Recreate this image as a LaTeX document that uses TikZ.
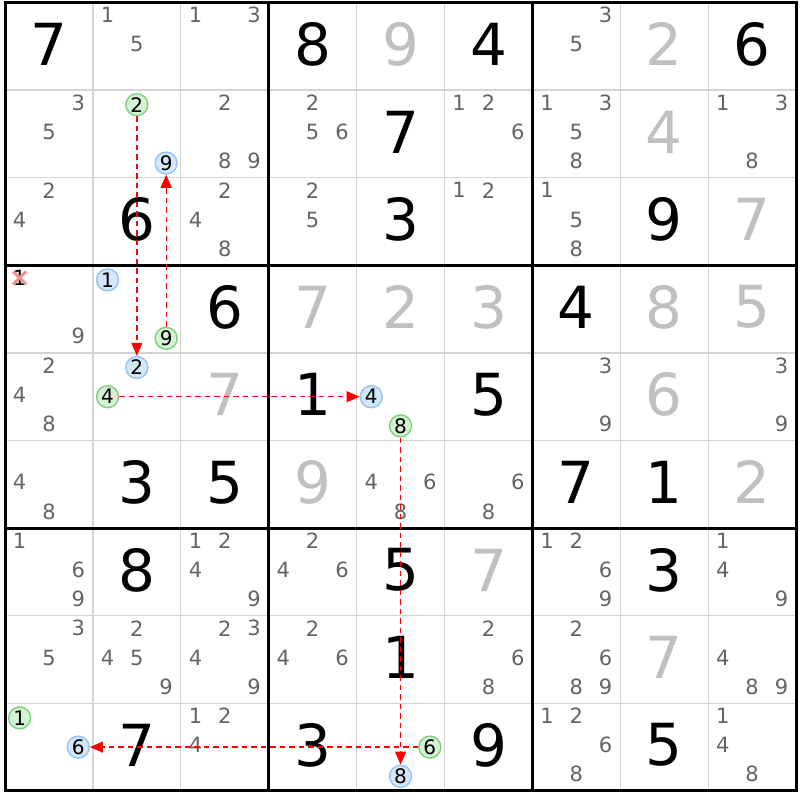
\documentclass[tikz,border=0pt]{standalone}
\usepackage{fontspec}
\setmainfont{DejaVu Sans}
\usetikzlibrary{arrows.meta}
\definecolor{candgray}{HTML}{646464}
\definecolor{solgray}{HTML}{C0C0C0}
\definecolor{thingray}{HTML}{D4D4D4}
\definecolor{gfill}{HTML}{D4F2D4}
\definecolor{gline}{HTML}{80D080}
\definecolor{bfill}{HTML}{D3E6FA}
\definecolor{bline}{HTML}{94C4F2}
\definecolor{xred}{HTML}{F29090}
\def\X{5}
\def\Y{2.5}
\def\CW{87.9}
\def\CH{87.6}
\newcommand\PX[2]{\X+#1*\CW+(mod(#2-1,3)+0.5)*\CW/3}
\newcommand\PY[2]{\Y+#1*\CH+(floor((#2-1)/3)+0.5)*\CH/3-2}
\begin{document}
\begin{tikzpicture}[x=1pt,y=-1pt,
  given/.style={font=\fontsize{58}{58}\selectfont, text=black, inner sep=0pt},
  solved/.style={given, text=solgray},
  cand/.style={font=\fontsize{21}{21}\selectfont, text=candgray, inner sep=0pt},
  gcirc/.style={circle, draw=gline, fill=gfill, line width=1.4pt, minimum size=22pt, inner sep=0pt, text=black, font=\fontsize{20}{20}\selectfont},
  bcirc/.style={gcirc, draw=bline, fill=bfill},
  link/.style={draw=red, line width=1.3pt, dash pattern=on 5.5pt off 4pt, -{Triangle[length=13pt,width=11pt,fill=red]}},
  thinline/.style={draw=thingray, line width=1.3pt},
  thickline/.style={draw=black, line width=3pt},
  xmark/.style={draw=xred, line width=3pt}]
\useasboundingbox[fill=white] (0,0) rectangle (800,800);
% thin grid
\foreach \i in {1,2,4,5,7,8}{
  \draw[thinline] ({\X+\i*\CW},{\Y}) -- ({\X+\i*\CW},{\Y+9*\CH});
  \draw[thinline] ({\X},{\Y+\i*\CH}) -- ({\X+9*\CW},{\Y+\i*\CH});
}
% thick grid
\foreach \i in {0,3,6,9}{
  \draw[thickline] ({\X+\i*\CW},{\Y-1.5}) -- ({\X+\i*\CW},{\Y+9*\CH+1.5});
  \draw[thickline] ({\X-1.5},{\Y+\i*\CH}) -- ({\X+9*\CW+1.5},{\Y+\i*\CH});
}
% given digits
\foreach \r/\c/\d in {0/0/7,0/3/8,0/5/4,0/8/6,1/4/7,2/1/6,2/4/3,2/7/9,3/2/6,3/6/4,4/3/1,4/5/5,5/1/3,5/2/5,5/6/7,5/7/1,6/1/8,6/4/5,6/7/3,7/4/1,8/1/7,8/3/3,8/5/9,8/7/5}{
  \node[given] (n\r\c) at ({\X+(\c+0.5)*\CW},{\Y+(\r+0.5)*\CH-2}) {\d};
}
% solved digits (gray)
\foreach \r/\c/\d in {0/4/9,0/7/2,1/7/4,2/8/7,3/3/7,3/4/2,3/5/3,3/7/8,3/8/5,4/2/7,4/7/6,5/3/9,5/8/2,6/5/7,7/7/7}{
  \node[solved] (s\r\c) at ({\X+(\c+0.5)*\CW},{\Y+(\r+0.5)*\CH-2}) {\d};
}
% candidates
\foreach \r/\c/\L in {0/1/{1,5},0/2/{1,3},0/6/{3,5},
  1/0/{3,5},1/2/{2,8,9},1/3/{2,5,6},1/5/{1,2,6},1/6/{1,3,5,8},1/8/{1,3,8},
  2/0/{2,4},2/2/{2,4,8},2/3/{2,5},2/5/{1,2},2/6/{1,5,8},
  3/0/{9},
  4/0/{2,4,8},4/6/{3,9},4/8/{3,9},
  5/0/{4,8},5/4/{4,6,8},5/5/{6,8},
  6/0/{1,6,9},6/2/{1,2,4,9},6/3/{2,4,6},6/6/{1,2,6,9},6/8/{1,4,9},
  7/0/{3,5},7/1/{2,4,5,9},7/2/{2,3,4,9},7/3/{2,4,6},7/5/{2,6,8},7/6/{2,6,8,9},7/8/{4,8,9},
  8/2/{1,2,4},8/6/{1,2,6,8},8/8/{1,4,8}}{
  \foreach \d in \L {
    \node[cand] (k\r\c\d) at ({\PX{\c}{\d}},{\PY{\r}{\d}}) {\d};
  }
}
% eliminated candidate
\node[cand, text=black] (k301) at ({\PX{0}{1}},{\PY{3}{1}}) {1};
\draw[xmark] ([shift={(-6.5,-6.5)}]k301.center) -- ([shift={(6.5,6.5)}]k301.center);
\draw[xmark] ([shift={(-6.5,6.5)}]k301.center) -- ([shift={(6.5,-6.5)}]k301.center);
% circled candidates
\foreach \r/\c/\d in {1/1/2,3/1/9,4/1/4,4/4/8,8/4/6,8/0/1}{
  \node[gcirc] (g\r\c\d) at ({\PX{\c}{\d}},{\PY{\r}{\d}+2}) {\d};
}
\foreach \r/\c/\d in {1/1/9,3/1/1,4/1/2,4/4/4,8/4/8,8/0/6}{
  \node[bcirc] (b\r\c\d) at ({\PX{\c}{\d}},{\PY{\r}{\d}+2}) {\d};
}
% links
\draw[link] (g112) -- (b412);
\draw[link] (g319) -- (b119);
\draw[link] (g414) -- (b444);
\draw[link] (g448) -- (b848);
\draw[link] (g846) -- (b806);
\end{tikzpicture}
\end{document}
